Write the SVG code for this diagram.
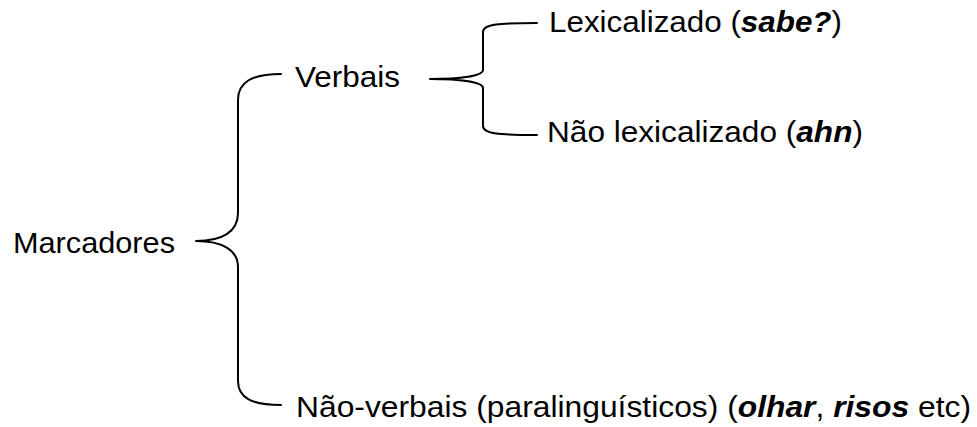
<svg xmlns="http://www.w3.org/2000/svg" width="977" height="427" viewBox="0 0 977 427">
<style>
text{font-family:"Liberation Sans",Arial,sans-serif;font-size:30px;fill:#000}
.bi{font-weight:bold;font-style:italic}
.br{fill:none;stroke:#000;stroke-width:2;stroke-linejoin:round;stroke-linecap:round}
</style>
<rect width="977" height="427" fill="#fff"/>
<g id="connectors">
<path class="br" d="M281,74 C252,74 238,82 238,100 L238,213 C238,232 222,241 196,241 C222,241 238,250 238,267 L238,381 C238,398 252,405 281,405"/>
<path class="br" d="M537,23 C500,23 483,24 483,32 L483,70 C483,76 460,79 430,79 C460,79 483,82 483,88 L483,126 C483,134 500,135 537,135"/>
</g>
<g id="marcadores"><text x="13" y="253" textLength="162" lengthAdjust="spacingAndGlyphs">Marcadores</text></g>
<g id="verbais"><text x="295" y="87" textLength="105" lengthAdjust="spacingAndGlyphs">Verbais</text></g>
<g id="lexicalizado"><text x="549" y="32" textLength="293" lengthAdjust="spacingAndGlyphs">Lexicalizado (<tspan class="bi">sabe?</tspan>)</text></g>
<g id="nao-lexicalizado"><text x="547" y="142" textLength="316" lengthAdjust="spacingAndGlyphs">Não lexicalizado (<tspan class="bi">ahn</tspan>)</text></g>
<g id="nao-verbais"><text x="296" y="417" textLength="675" lengthAdjust="spacingAndGlyphs">Não-verbais (paralinguísticos) (<tspan class="bi">olhar</tspan>, <tspan class="bi">risos</tspan> etc)</text></g>
</svg>
